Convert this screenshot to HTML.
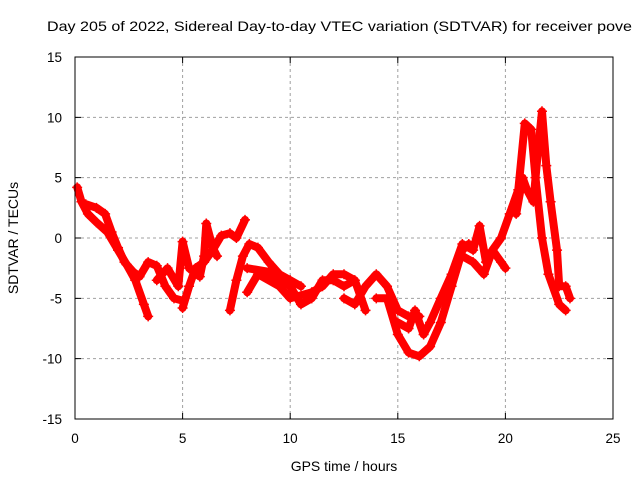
<!DOCTYPE html>
<html><head><meta charset="utf-8"><style>
html,body{margin:0;padding:0;background:#fff;}
svg{display:block;font-family:"Liberation Sans",sans-serif;}
</style></head><body>
<svg id="chart" width="640" height="480">
<text x="47" y="31" font-size="14" textLength="585" lengthAdjust="spacingAndGlyphs" fill="#000">Day 205 of 2022, Sidereal Day-to-day VTEC variation (SDTVAR) for receiver pove</text>
<g id="grid"></g>
<g id="series"></g>
<rect x="75" y="57" width="538" height="362" fill="none" stroke="#000" stroke-width="1"/>
<g id="ticks"></g>
<text x="344" y="471" font-size="14" text-anchor="middle">GPS time / hours</text>
<text transform="translate(18,238) rotate(-90)" font-size="14" text-anchor="middle">SDTVAR / TECUs</text>
</svg>
<script>
const xTicks=[0,5,10,15,20,25];
const yTicks=[-15,-10,-5,0,5,10,15];
const trace1=[[0.1,4.2],[0.3,3],[0.6,2],[1,1.3],[1.5,0.5],[2,-1],[2.4,-2.2],[2.8,-3.5],[3.2,-5.5],[3.4,-6.5]];
const trace2=[[0.5,2.8],[1,2.5],[1.4,2],[1.7,0.5],[2,-0.8],[2.3,-2],[2.7,-2.8],[3,-3.2],[3.4,-2],[3.8,-2.3],[4.2,-4],[4.6,-5],[5,-5.2]];
const trace3=[[3.8,-3.5],[4.3,-2.5],[4.8,-4],[5,-0.3],[5.3,-2.5],[5.8,-3.2],[6,-1.5],[6.1,1.2],[6.4,-0.8],[6.6,-1.5]];
const trace4=[[5,-5.8],[5.3,-4],[5.6,-2.5],[6,-2],[6.4,-1],[6.8,0.2],[7.2,0.4],[7.5,0],[7.9,1.5]];
const trace5=[[7.2,-6],[7.5,-3.5],[7.8,-1.5],[8.1,-0.5],[8.5,-0.8],[9,-2],[9.5,-3],[10,-3.5],[10.5,-4]];
const trace6=[[8,-2.5],[9,-2.8],[10,-4],[10.5,-5.5],[11,-5],[11.5,-3.5],[12,-3.5],[12.5,-4],[13,-3.5]];
const trace7=[[8,-4.5],[8.5,-3],[9.5,-4],[10,-5],[11,-4.5],[11.5,-4],[12,-3],[12.5,-3],[13,-3.5],[13.5,-6]];
const trace8=[[12.5,-5],[13,-5.5],[13.5,-4],[14,-3],[14.5,-4],[15,-6],[15.5,-6.5],[16,-6.5]];
const trace9=[[14,-5],[14.5,-5],[15,-8],[15.5,-9.5],[16,-9.8],[16.5,-9],[17,-7],[17.5,-4],[18,-1],[18.3,-0.5]];
const trace10=[[15,-7],[15.5,-7.5],[15.8,-6],[16.2,-8],[16.5,-7],[17,-5],[17.5,-3],[18,-0.5],[18.5,-1],[18.8,1],[19.1,-2],[19.4,-1],[19.8,-2],[20,-2.5]];
const trace11=[[18,-1.5],[18.5,-2],[19,-3],[19.4,-1],[19.8,0],[20.2,2],[20.6,4],[20.9,9.5],[21.2,9],[21.4,5],[21.7,0],[22,-3],[22.5,-5.5],[22.8,-6]];
const trace12=[[20.5,2],[20.8,5],[21,4],[21.3,3],[21.5,7],[21.7,10.5],[21.9,6],[22.1,3],[22.4,-1],[22.5,-4],[22.8,-4],[23,-5]];
const traces=[trace1,trace2,trace3,trace4,trace5,trace6,trace7,trace8,trace9,trace10,trace11,trace12];

const NS='http://www.w3.org/2000/svg';
const X0=75,X1=613,Y0=419,Y1=57;
function sx(t){return X0+(t-0)/(25-0)*(X1-X0);}
function sy(v){return Y0-(v+15)/30*(Y0-Y1);}
function mk(tag,attrs,parent){const e=document.createElementNS(NS,tag);for(const k in attrs)e.setAttribute(k,attrs[k]);parent.appendChild(e);return e;}
const grid=document.getElementById('grid'),ticks=document.getElementById('ticks'),ser=document.getElementById('series');
xTicks.forEach(t=>{
  const x=sx(t);
  if(t>0&&t<25){const g=mk('line',{x1:x,x2:x,y1:Y1,y2:Y0,stroke:'#a0a0a0','stroke-dasharray':'3,3'},grid);
  
  }
  const tk=mk('path',{d:`M${x},${Y0}v-6M${x},${Y1}v6`,stroke:'#000'},ticks);
  
  
  const l=mk('text',{x:x,y:443,'font-size':13.5,'text-anchor':'middle'},ticks);l.textContent=t;
  
  
});
yTicks.forEach(v=>{
  const y=sy(v);
  if(v>-15&&v<15){const g=mk('line',{x1:X0,x2:X1,y1:y,y2:y,stroke:'#a0a0a0','stroke-dasharray':'3,3'},grid);
  
  }
  const tk=mk('path',{d:`M${X0},${y}h6M${X1},${y}h-6`,stroke:'#000'},ticks);
  
  
  const l=mk('text',{x:62,y:y+5,'font-size':13.5,'text-anchor':'end'},ticks);l.textContent=v;
  
  
});
traces.forEach((tr,i)=>{
  const d=tr.map((p,j)=>(j?'L':'M')+sx(p[0]).toFixed(1)+','+sy(p[1]).toFixed(1)).join('');
  const pl=mk('path',{d:d,fill:'none',stroke:'#ff0000','stroke-width':8,'stroke-linejoin':'round','stroke-linecap':'round'},ser);
  
  
  tr.forEach(p=>{
    const x=sx(p[0]),y=sy(p[1]);
    const m=mk('path',{d:`M${x-5},${y}h10M${x},${y-5}v10`,stroke:'#ff0000','stroke-width':1.5},ser);
    
    
  });
});
</script>
</body></html>
